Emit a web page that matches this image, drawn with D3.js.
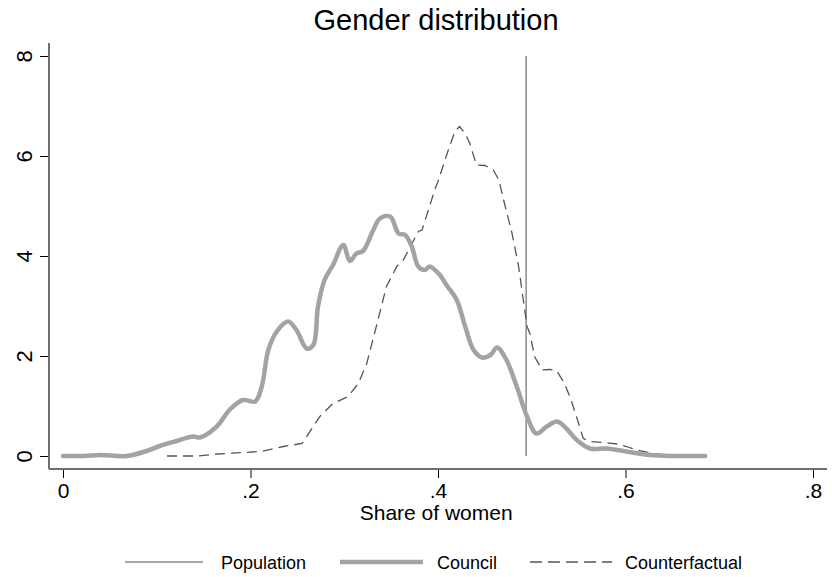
<!DOCTYPE html>
<html>
<head>
<meta charset="utf-8">
<script src="https://cdn.jsdelivr.net/npm/d3@7"></script>
<style>
  html, body { margin: 0; padding: 0; background: #fff; }
  svg { display: block; font-family: "Liberation Sans", Arial, Helvetica, sans-serif; }
</style>
</head>
<body>
<svg id="chart" width="832" height="577"></svg>
<script>
// Kernel density of the share of women: council members vs. counterfactual
const councilShare = [0, .022, .04, .068, .089, .103, .121, .139, .146, .164, .178, .192, .205, .212, .219, .228, .240, .249, .260, .267, .272, .279, .288, .299, .306, .313, .320, .331, .338, .349, .358, .365, .372, .379, .386, .391, .402, .409, .420, .429, .438, .447, .456, .463, .473, .484, .495, .505, .516, .527, .537, .548, .562, .580, .601, .626, .651, .685];
const councilDensity = [0, 0, .02, 0, .1, .2, .3, .39, .37, .59, .93, 1.12, 1.09, 1.39, 2.12, 2.49, 2.69, 2.52, 2.15, 2.22, 2.99, 3.52, 3.82, 4.22, 3.9, 4.05, 4.1, 4.52, 4.75, 4.79, 4.45, 4.42, 4.19, 3.79, 3.72, 3.79, 3.62, 3.42, 3.12, 2.59, 2.12, 1.97, 2.02, 2.17, 1.92, 1.39, .79, .45, .59, .69, .55, .32, .15, .15, .09, .02, 0, 0];

const counterShare = [.111, .143, .164, .211, .235, .255, .274, .288, .304, .315, .324, .335, .345, .356, .363, .379, .383, .397, .400, .411, .418, .423, .429, .434, .441, .450, .459, .465, .470, .479, .486, .491, .495, .498, .503, .511, .520, .527, .535, .542, .550, .555, .562, .576, .591, .601, .612, .630, .650];
const counterDensity = [0, 0, .04, .09, .19, .25, .79, 1.05, 1.19, 1.45, 1.85, 2.65, 3.39, 3.79, 3.92, 4.49, 4.52, 5.35, 5.49, 6.12, 6.49, 6.59, 6.45, 6.25, 5.82, 5.81, 5.72, 5.52, 5.12, 4.45, 3.79, 3.12, 2.59, 2.45, 1.99, 1.72, 1.73, 1.69, 1.45, 1.12, .65, .35, .29, .27, .24, .19, .12, .05, .01];

const populationShare = 0.494;

const xTicks = [0, .2, .4, .6, .8];
const yTicks = [0, 2, 4, 6, 8];
const seriesNames = ["Population", "Council", "Counterfactual"];

const titleText = "Gender distribution";
const xLabel = "Share of women";

// Styles
const COL_AXIS = "#6f6f6f";
const COL_POP = "#8a8a8a";
const COL_COUNCIL = "#a3a3a3";
const COL_CF = "#555555";

const svg = d3.select("#chart");
svg.append("rect").attr("width", 832).attr("height", 577).attr("fill", "#fff");

const x = d3.scaleLinear().domain([0, .8]).range([63, 813]);
const y = d3.scaleLinear().domain([0, 8]).range([456, 56]);

// plot frame edges (axes extend a bit past the data range)
const frame = { left: 49, right: 827, top: 43, bottom: 469 };

// trailing tiny dot rendered by the original graphics engine after each label
function addDot(sel, size) {
  sel.append("tspan").attr("font-size", size).attr("fill", "#999").text(".");
}

// Title
const title = svg.append("text")
  .attr("x", (frame.left + frame.right) / 2 - 1)
  .attr("y", 30)
  .attr("text-anchor", "middle")
  .attr("font-size", 29)
  .attr("fill", "#000")
  .text(titleText);
addDot(title, 7);

// Y axis
const yAxis = svg.append("g").attr("transform", `translate(${frame.left},0)`)
  .call(d3.axisLeft(y).tickValues(yTicks).tickSize(9).tickFormat(d3.format("d")));
yAxis.select(".domain").remove();
yAxis.selectAll(".tick line").attr("stroke", "#000").attr("stroke-width", 1);
yAxis.selectAll(".tick text").remove();
yAxis.selectAll(".tick").each(function(d) {
  const t = d3.select(this).append("text")
    .attr("transform", `translate(${32 - frame.left},0) rotate(-90)`)
    .attr("text-anchor", "middle")
    .attr("font-size", 22)
    .attr("fill", "#000")
    .attr("dx", 1)
    .text(d3.format("d")(d));
  addDot(t, 6);
});
svg.append("line")
  .attr("x1", frame.left).attr("x2", frame.left)
  .attr("y1", frame.top).attr("y2", frame.bottom)
  .attr("stroke", COL_AXIS).attr("stroke-width", 2);

// X axis
const fmtX = d => d === 0 ? "0" : d3.format(".1f")(d).replace(/^0/, "");
const xAxis = svg.append("g").attr("transform", `translate(0,${frame.bottom})`)
  .call(d3.axisBottom(x).tickValues(xTicks).tickSize(9).tickFormat(fmtX));
xAxis.select(".domain").remove();
xAxis.selectAll(".tick line").attr("stroke", "#000").attr("stroke-width", 1);
xAxis.selectAll(".tick text")
  .attr("y", 29).attr("dy", 0)
  .attr("font-size", 21)
  .attr("font-family", "\"Liberation Sans\", Arial, Helvetica, sans-serif")
  .attr("fill", "#000");
svg.append("line")
  .attr("x1", frame.left).attr("x2", frame.right)
  .attr("y1", frame.bottom).attr("y2", frame.bottom)
  .attr("stroke", COL_AXIS).attr("stroke-width", 2);

// X axis title
const xl = svg.append("text")
  .attr("x", (frame.left + frame.right) / 2 - 1)
  .attr("y", 520)
  .attr("text-anchor", "middle")
  .attr("font-size", 21)
  .attr("fill", "#000")
  .text(xLabel);
addDot(xl, 6);

// Population share reference line
svg.append("line")
  .attr("x1", x(populationShare)).attr("x2", x(populationShare))
  .attr("y1", y(0)).attr("y2", y(8))
  .attr("stroke", COL_POP).attr("stroke-width", 1.5);

// Counterfactual density (dashed)
const cfData = counterShare.map((s, i) => [s, counterDensity[i]]);
svg.append("path")
  .datum(cfData)
  .attr("fill", "none")
  .attr("stroke", COL_CF)
  .attr("stroke-width", 1.3)
  .attr("stroke-dasharray", "10,6")
  .attr("d", d3.line().x(d => x(d[0])).y(d => y(d[1])).curve(d3.curveLinear));

// Council density (thick)
const councilData = councilShare.map((s, i) => [s, councilDensity[i]]);
svg.append("path")
  .datum(councilData)
  .attr("fill", "none")
  .attr("stroke", COL_COUNCIL)
  .attr("stroke-width", 4.5)
  .attr("stroke-linejoin", "round")
  .attr("stroke-linecap", "round")
  .attr("d", d3.line().x(d => x(d[0])).y(d => y(d[1])).curve(d3.curveCatmullRom.alpha(0.5)));

// Legend
const legendY = 562;
const legendItems = [
  { name: seriesNames[0], x0: 125, x1: 203, tx: 221, stroke: COL_POP, width: 1.5, dash: null },
  { name: seriesNames[1], x0: 340, x1: 423, tx: 437, stroke: COL_COUNCIL, width: 4.5, dash: null },
  { name: seriesNames[2], x0: 530, x1: 612, tx: 625, stroke: COL_CF, width: 1.3, dash: "12,6" }
];
const lg = svg.append("g");
legendItems.forEach(it => {
  const ln = lg.append("line")
    .attr("x1", it.x0).attr("x2", it.x1)
    .attr("y1", legendY).attr("y2", legendY)
    .attr("stroke", it.stroke).attr("stroke-width", it.width);
  if (it.dash) ln.attr("stroke-dasharray", it.dash);
  const t = lg.append("text")
    .attr("x", it.tx).attr("y", legendY + 7)
    .attr("font-size", 18)
    .attr("fill", "#000")
    .text(it.name);
  addDot(t, 6);
});
</script>
</body>
</html>
